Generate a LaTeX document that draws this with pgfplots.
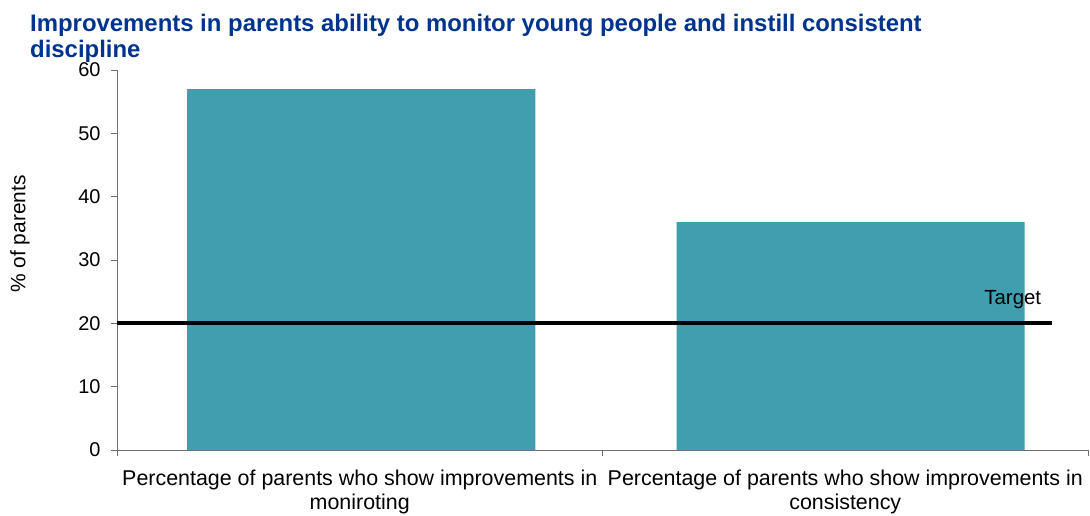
\documentclass[border=0pt]{standalone}
\usepackage{pgfplots}
\pgfplotsset{compat=1.18}
\usepackage{fontspec}
\setmainfont{Liberation Sans}
\definecolor{barteal}{RGB}{65,158,175}
\definecolor{titleblue}{RGB}{0,51,141}
\definecolor{axisgrey}{RGB}{110,110,110}

\begin{document}
\begin{tikzpicture}
\begin{axis}[
    width=971bp, height=380bp,
    scale only axis,
    xmin=0, xmax=2,
    ymin=0, ymax=60,
    ytick={0,10,...,60},
    xtick={0.5,1.5},
    xticklabels={Percentage of parents who show improvements in\\moniroting,
                 Percentage of parents who show improvements in\\consistency},
    minor xtick={0,1,2},
    major x tick style={draw=none},
    axis x line*=bottom,
    axis y line*=left,
    axis line style={axisgrey, line width=1pt},
    tick style={axisgrey, line width=1pt},
    tick align=outside,
    major tick length=6bp,
    minor tick length=6bp,
    xticklabel style={align=center, font=\fontsize{21.5}{25}\selectfont, yshift=-10bp},
    yticklabel style={font=\fontsize{20}{23}\selectfont, xshift=-7bp},
    /pgf/number format/assume math mode=true,
    clip=false,
]
\addplot[ybar, bar width=0.717, fill=barteal, draw=none, bar shift=0pt]
  coordinates {(0.503,57) (1.511,36)};
\addplot[black, line width=4bp, mark=none]
  coordinates {(0,20) (1.926,20)};
\node[font=\fontsize{20.5}{23}\selectfont] at (axis cs:1.845,23.7) {Target};
\end{axis}
\node[anchor=north west, align=left, text=titleblue, inner sep=0pt,
      font=\fontsize{24}{26}\bfseries]
  at ([xshift=-87bp, yshift=56bp]current axis.north west)
  {Improvements in parents ability to monitor young people and instill consistent\\discipline};
\node[rotate=90, font=\fontsize{21}{23}\selectfont]
  at ([xshift=-97bp, yshift=-164bp]current axis.north west) {\% of parents};
\pgfresetboundingbox
\path[use as bounding box] ([xshift=-117bp, yshift=-66bp]current axis.south west) rectangle ++(1090bp,516bp);
\end{tikzpicture}
\end{document}
